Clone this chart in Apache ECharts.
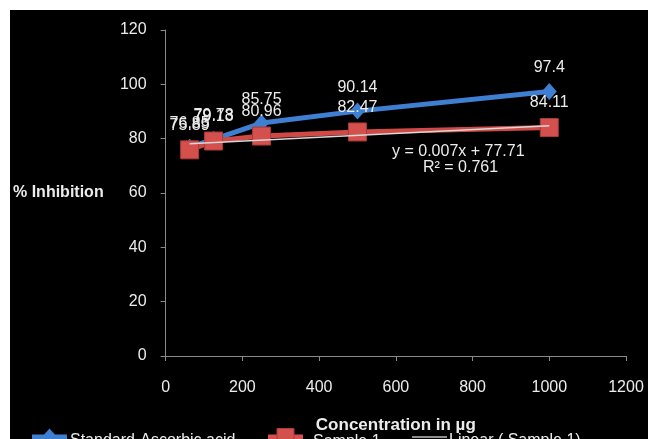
<!DOCTYPE html>
<html>
<head>
<meta charset="utf-8">
<script src="https://cdn.jsdelivr.net/npm/echarts@6/dist/echarts.min.js"></script>
<style>
  html, body { margin: 0; padding: 0; background: #ffffff; width: 648px; height: 439px; overflow: hidden; }
  #chart { position: absolute; left: 10px; top: 10px; width: 638px; height: 429px; background: #000; }
</style>
</head>
<body>
<div id="chart"></div>
<script>
// Concentration (µg) and % inhibition readings
const concentrations = [62.5, 125, 250, 500, 1000];
const standardAscorbic = [76.85, 79.78, 85.75, 90.14, 97.4];
const sample1 = [75.89, 79.13, 80.96, 82.47, 84.11];

// Linear trend fitted to Sample 1
const trendSlope = 0.007;
const trendIntercept = 77.71;
const trendR2 = 0.761;

const xTicks = { min: 0, max: 1200, interval: 200 };
const yTicks = { min: 0, max: 120, interval: 20 };

const font = '"Liberation Sans", Arial, sans-serif';
const textColor = '#ececec';
const blue = '#3f7fd2';
const red = '#d4504c';
const trendColor = '#d8d8d8';

const pairs = (xs, ys) => xs.map((x, i) => [x, ys[i]]);
const xMin = Math.min(...concentrations);
const xMax = Math.max(...concentrations);
const trendPoints = [xMin, xMax].map(x => [x, trendSlope * x + trendIntercept]);

const chart = echarts.init(document.getElementById('chart'));

const labelStyle = {
  show: true,
  position: 'top',
  distance: 7,
  color: textColor,
  fontSize: 16,
  fontFamily: font
};

const legendText = { color: textColor, fontSize: 16, fontFamily: font, padding: [0, 0, 0, -3] };
// legend icons are left blank; the swatches are drawn below as line + marker
const blankItem = name => ({ name, icon: 'rect', itemStyle: { opacity: 0 } });

const legendY = 427;
const swatch = (x0, color, width, marker) => {
  const els = [{
    type: 'line', z: 10,
    shape: { x1: x0, y1: legendY, x2: x0 + 35, y2: legendY },
    style: { stroke: color, lineWidth: width }
  }];
  const cx = x0 + 17.5;
  if (marker === 'diamond') {
    els.push({ type: 'polygon', z: 11,
      shape: { points: [[cx, legendY - 8.5], [cx + 7.5, legendY], [cx, legendY + 8.5], [cx - 7.5, legendY]] },
      style: { fill: color } });
  } else if (marker === 'square') {
    els.push({ type: 'rect', z: 11,
      shape: { x: cx - 8.5, y: legendY - 8.5, width: 17, height: 17 },
      style: { fill: color, stroke: '#a83a37', lineWidth: 1 } });
  }
  return els;
};

chart.setOption({
  backgroundColor: '#000',
  animation: false,
  textStyle: { fontFamily: font },
  grid: { left: 152, top: 20, width: 464, height: 330, containLabel: false },
  xAxis: {
    type: 'value',
    min: xTicks.min, max: xTicks.max, interval: xTicks.interval,
    name: 'Concentration in µg',
    nameLocation: 'middle',
    nameGap: 61,
    nameTextStyle: { color: textColor, fontSize: 17, fontWeight: 'bold', fontFamily: font },
    axisLine: { show: true, lineStyle: { color: '#8a8a8a', width: 1 } },
    axisTick: { show: true, inside: false, length: 5, lineStyle: { color: '#8a8a8a' } },
    axisLabel: { color: textColor, fontSize: 16, margin: 24, fontFamily: font, formatter: v => String(v) },
    splitLine: { show: false }
  },
  yAxis: {
    type: 'value',
    min: yTicks.min, max: yTicks.max, interval: yTicks.interval,
    name: '% Inhibition',
    nameLocation: 'middle',
    nameRotate: 0,
    nameGap: 62,
    nameTextStyle: { color: textColor, fontSize: 16, fontWeight: 'bold', fontFamily: font },
    axisLine: { show: true, lineStyle: { color: '#8a8a8a', width: 1 } },
    axisTick: { show: true, inside: false, length: 5, lineStyle: { color: '#8a8a8a' } },
    axisLabel: { color: textColor, fontSize: 16, margin: 19, fontFamily: font },
    splitLine: { show: false }
  },
  legend: [
    { left: 18, top: 417, itemWidth: 35, itemHeight: 17, data: [blankItem('Standard-Ascorbic acid')], textStyle: legendText },
    { left: 260, top: 417, itemWidth: 35, itemHeight: 17, data: [blankItem('Sample 1')], textStyle: legendText },
    { left: 397, top: 417, itemWidth: 35, itemHeight: 17, data: [blankItem('Linear ( Sample 1)')], textStyle: legendText }
  ],
  series: [
    {
      name: 'Standard-Ascorbic acid',
      type: 'line',
      data: pairs(concentrations, standardAscorbic),
      symbol: 'diamond',
      symbolSize: [15, 17],
      color: blue,
      lineStyle: { color: blue, width: 5 },
      itemStyle: { color: blue },
      label: labelStyle,
      z: 2
    },
    {
      name: 'Sample 1',
      type: 'line',
      data: pairs(concentrations, sample1),
      symbol: 'rect',
      symbolSize: 18,
      color: red,
      lineStyle: { color: '#cf4a46', width: 5 },
      itemStyle: { color: red, borderColor: '#a83a37', borderWidth: 1 },
      label: labelStyle,
      z: 3
    },
    {
      name: 'Linear ( Sample 1)',
      type: 'line',
      data: trendPoints,
      symbol: 'none',
      color: trendColor,
      lineStyle: { color: trendColor, width: 1.5 },
      label: { show: false },
      z: 4
    }
  ],
  graphic: [
    {
      type: 'text', left: 382, top: 134,
      style: { text: 'y = ' + trendSlope + 'x + ' + trendIntercept, fill: textColor, fontSize: 16, fontFamily: font }
    },
    {
      type: 'text', left: 413, top: 150,
      style: { text: 'R² = ' + trendR2, fill: textColor, fontSize: 16, fontFamily: font }
    },
    ...swatch(22, blue, 5, 'diamond'),
    ...swatch(258, red, 5, 'square'),
    ...swatch(402, '#bdbdbd', 1.5, null)
  ]
});
</script>
</body>
</html>
